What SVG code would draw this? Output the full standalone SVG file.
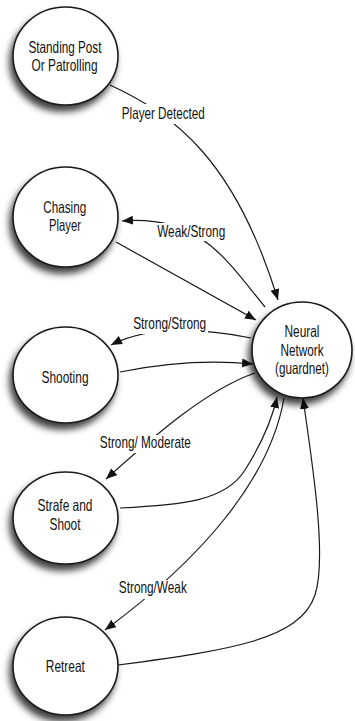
<svg xmlns="http://www.w3.org/2000/svg" width="355" height="721" viewBox="0 0 355 721">
<style>
.node ellipse{fill:#fff;stroke:#1a1a1a;stroke-width:1.6;filter:url(#sh)}
.t{font-family:"Liberation Sans","Arial",sans-serif;font-size:16.5px;fill:#111;text-anchor:middle}
.c{fill:none;stroke:#1a1a1a;stroke-width:1.2;marker-end:url(#ah)}
.bg{fill:#fff}
</style>
<defs>
<filter id="sh" x="-30%" y="-30%" width="160%" height="170%">
<feGaussianBlur in="SourceAlpha" stdDeviation="3.5"/>
<feOffset dx="-3" dy="6" result="o"/>
<feFlood flood-color="#000" flood-opacity="0.75"/>
<feComposite in2="o" operator="in"/>
<feMerge><feMergeNode/><feMergeNode in="SourceGraphic"/></feMerge>
</filter>
<marker id="ah" markerUnits="userSpaceOnUse" markerWidth="12" markerHeight="10" refX="11" refY="4.5" orient="auto">
<path d="M0,0 L11,4.5 L0,9 z" fill="#111"/>
</marker>
</defs>
<g id="connectors">
<path class="c" d="M110,85 C175,115 235,160 278,300"/>
<path class="c" d="M265,307 C225,258 200,215 122,221"/>
<path class="c" d="M116,242 L256,320"/>
<path class="c" d="M251,338 Q160,320 111,345"/>
<path class="c" d="M120,372 Q190,358 253,364"/>
<path class="c" d="M255,373 C205,390 150,440 106,479"/>
<path class="c" d="M120,508 C180,505 225,502 245,470 C262,443 272,420 277,397"/>
<path class="c" d="M284,398 C270,480 200,560 105,630"/>
<path class="c" d="M118,665 C230,650 300,640 315,595 C328,555 310,450 303,398"/>
</g>
<g id="labels">
<rect class="bg" x="120" y="104" width="87" height="20"/>
<text class="t" x="163.3" y="119" textLength="83" lengthAdjust="spacingAndGlyphs">Player Detected</text>
<rect class="bg" x="156" y="223" width="70" height="18"/>
<text class="t" x="191.2" y="236.5" textLength="68" lengthAdjust="spacingAndGlyphs">Weak/Strong</text>
<rect class="bg" x="132" y="316" width="76" height="18"/>
<text class="t" x="169.7" y="328.5" textLength="73" lengthAdjust="spacingAndGlyphs">Strong/Strong</text>
<rect class="bg" x="99" y="435" width="93" height="18"/>
<text class="t" x="145.3" y="447.5" textLength="91" lengthAdjust="spacingAndGlyphs">Strong/ Moderate</text>
<rect class="bg" x="118" y="580" width="70" height="19"/>
<text class="t" x="152.8" y="592.5" textLength="68" lengthAdjust="spacingAndGlyphs">Strong/Weak</text>
</g>
<g id="standing" class="node">
<ellipse cx="65.5" cy="56" rx="52.5" ry="49"/>
<text class="t" x="65" y="52.5" textLength="73" lengthAdjust="spacingAndGlyphs">Standing Post</text>
<text class="t" x="64.5" y="71" textLength="66" lengthAdjust="spacingAndGlyphs">Or Patrolling</text>
</g>
<g id="chasing" class="node">
<ellipse cx="65.5" cy="217" rx="52.5" ry="50"/>
<text class="t" x="64.7" y="212.5" textLength="43" lengthAdjust="spacingAndGlyphs">Chasing</text>
<text class="t" x="65" y="230.7" textLength="32" lengthAdjust="spacingAndGlyphs">Player</text>
</g>
<g id="shooting" class="node">
<ellipse cx="65.5" cy="375" rx="52.5" ry="48"/>
<text class="t" x="65" y="383" textLength="47" lengthAdjust="spacingAndGlyphs">Shooting</text>
</g>
<g id="strafe" class="node">
<ellipse cx="65.5" cy="518" rx="52.5" ry="46"/>
<text class="t" x="65" y="511" textLength="55" lengthAdjust="spacingAndGlyphs">Strafe and</text>
<text class="t" x="65" y="530" textLength="31" lengthAdjust="spacingAndGlyphs">Shoot</text>
</g>
<g id="retreat" class="node">
<ellipse cx="65.5" cy="666" rx="52.5" ry="49"/>
<text class="t" x="65.3" y="671.5" textLength="39" lengthAdjust="spacingAndGlyphs">Retreat</text>
</g>
<g id="neural" class="node">
<ellipse cx="302" cy="350" rx="50" ry="48"/>
<text class="t" x="302" y="337" textLength="35" lengthAdjust="spacingAndGlyphs">Neural</text>
<text class="t" x="302" y="355.5" textLength="43" lengthAdjust="spacingAndGlyphs">Network</text>
<text class="t" x="302" y="374" textLength="54" lengthAdjust="spacingAndGlyphs">(guardnet)</text>
</g>
</svg>
